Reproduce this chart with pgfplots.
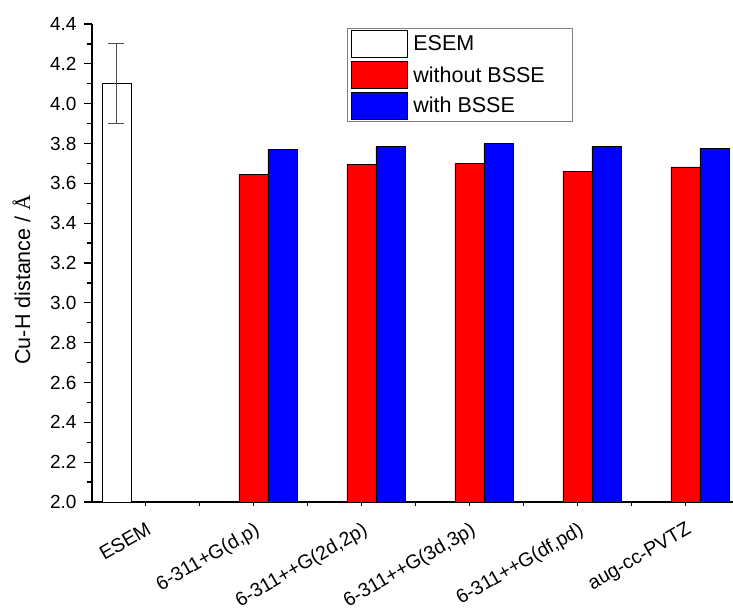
\documentclass[border=0pt]{standalone}
\usepackage{fontspec}
\setmainfont{Liberation Sans}
\newfontfamily\seriffont{Liberation Serif}
\usepackage{pgfplots}
\pgfplotsset{compat=1.18}
\pgfplotsset{myleg/.style={legend image code/.code={\draw[##1, line width=0.8pt] (0pt,-13.5pt) rectangle (56pt,13.5pt);}}}
\begin{document}
\begin{tikzpicture}
\begin{axis}[
  at={(0pt,0pt)}, anchor=south west,
  scale only axis, width=641pt, height=478pt,
  xmin=-0.495, xmax=5.44, ymin=2.0, ymax=4.4,
  axis x line*=bottom, axis y line*=left,
  axis line style={line width=1.4pt, -},
  xtick={0,1,2,3,4,5},
  minor xtick={0.5,1.5,2.5,3.5,4.5},
  xticklabels={ESEM,{6-311+G(d,p)},{6-311++G(2d,2p)},{6-311++G(3d,3p)},{6-311++G(df,pd)},aug-cc-PVTZ},
  x tick label style={rotate=30, anchor=north east, inner sep=0pt, font=\fontsize{19.5}{22}\selectfont},
  xticklabel shift=11pt,
  ytick={2.0,2.2,2.4,2.6,2.8,3.0,3.2,3.4,3.6,3.8,4.0,4.2,4.4},
  minor y tick num=1,
  tick align=outside,
  major tick length=8pt, minor tick length=5pt,
  tick style={line width=1.2pt, black},
  x tick style={line width=0.8pt, /pgfplots/major tick length=4pt, /pgfplots/minor tick length=4pt},
  yticklabel shift=4pt,
  y tick label style={font=\fontsize{19}{22}\selectfont, /pgf/number format/.cd, fixed, fixed zerofill, precision=1},
  /pgf/number format/assume math mode=true,
  ylabel={Cu-H distance / {\seriffont Å}},
  ylabel style={at={(axis description cs:-0.11,0.465)}, anchor=center, font=\fontsize{21.5}{24}\selectfont},
  legend style={at={(rel axis cs:0.398,0.992)}, anchor=north west, draw=gray, line width=0.9pt,
    font=\fontsize{21.5}{25}\selectfont, row sep=3pt, inner xsep=3pt, inner ysep=2pt,
    cells={anchor=west}, nodes={inner xsep=6pt}},
  legend cell align=left,
]
\addplot[ybar, bar width=0.2685, bar shift=0pt, fill=white, draw=black, line width=0.8pt, myleg,
  error bars/.cd, y dir=both, y explicit,
  error bar style={line width=0.9pt, black!70},
  error mark options={rotate=90, mark size=8pt, line width=0.9pt, black!70}]
  coordinates {(-0.2685,4.1) +- (0,0.2)};
\addlegendentry{\makebox[150pt][l]{ESEM}}
\addplot[ybar, bar width=0.2685, bar shift=0pt, fill={rgb,255:red,255;green,0;blue,0}, draw=black, line width=0.8pt, myleg]
  coordinates {(1,3.645) (2,3.693) (3,3.698) (4,3.658) (5,3.682)};
\addlegendentry{without BSSE}
\addplot[ybar, bar width=0.2685, bar shift=0pt, fill={rgb,255:red,0;green,0;blue,255}, draw=black, line width=0.8pt, myleg]
  coordinates {(1.2685,3.769) (2.2685,3.787) (3.2685,3.800) (4.2685,3.785) (5.2685,3.777)};
\addlegendentry{with BSSE}
\end{axis}
\pgfresetboundingbox
\path[use as bounding box] (-92pt,-110pt) rectangle (641pt,502pt);
\end{tikzpicture}
\end{document}
